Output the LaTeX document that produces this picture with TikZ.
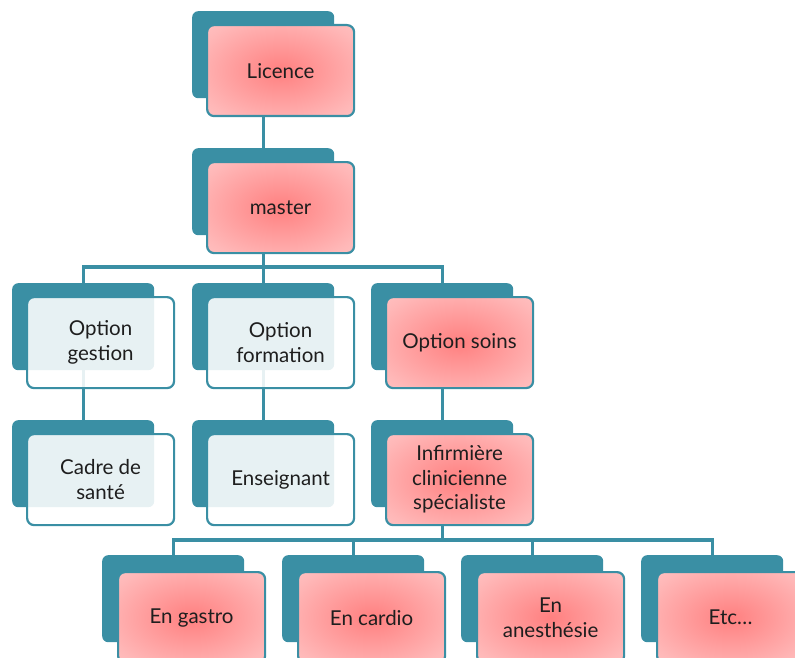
\documentclass[tikz,border=0pt]{standalone}
\usepackage{fontspec}
\setmainfont{Lato}
\pgfdeclarelayer{bg}
\pgfsetlayers{bg,main}
\definecolor{teal1}{RGB}{58,143,164}
\definecolor{txt}{RGB}{30,30,30}
\pgfdeclareradialshading{pinkrad}{\pgfpoint{0bp}{0bp}}{%
  rgb(0bp)=(1,0.50,0.50); rgb(8bp)=(1,0.56,0.56); rgb(30bp)=(1,0.72,0.72); rgb(50bp)=(1,0.83,0.83); rgb(75bp)=(1,0.88,0.88)}
\tikzset{
  backbox/.style={draw=none, fill=teal1, rounded corners=6pt, minimum width=142pt, minimum height=87pt, inner sep=0pt, anchor=north west},
  frontbase/.style={draw=teal1, line width=2.2pt, rounded corners=7pt, minimum width=147pt, minimum height=91pt, anchor=north west, align=center, text=txt, font=\fontsize{20.5}{24.5}\selectfont, inner sep=2pt},
  pinkbox/.style={frontbase, shading=pinkrad},
  bluebox/.style={frontbase, fill=white, fill opacity=0.88, text opacity=1},
  conn/.style={draw=teal1, line width=3.2pt}
}
\begin{document}
\begin{tikzpicture}[x=1pt, y=-1pt]
\useasboundingbox (0,0) rectangle (795,658);
\begin{scope}
\clip (0,0) rectangle (795,658);
% row 1
\node[backbox] (lB) at (192,11) {};
\node[pinkbox] (l) at (206,24) {Licence};
% row 2
\node[backbox] (mB) at (192,148) {};
\node[pinkbox] (m) at (206,161) {master};
% row 3
\node[backbox] (gB) at (12,283) {};
\node[bluebox] (g) at (26,296) {Option\\gestion};
\node[backbox] (fB) at (192,283) {};
\node[bluebox] (f) at (206,296) {Option\\formation};
\node[backbox] (sB) at (371,283) {};
\node[pinkbox] (s) at (385,296) {Option soins};
% row 4
\node[backbox] (cB) at (12,420) {};
\node[bluebox] (c) at (26,433) {Cadre de\\santé};
\node[backbox] (eB) at (192,420) {};
\node[bluebox] (e) at (206,433) {Enseignant};
\node[backbox] (iB) at (371,420) {};
\node[pinkbox] (i) at (385,433) {Infirmière\\clinicienne\\spécialiste};
% row 5
\node[backbox] (gaB) at (102,555) {};
\node[pinkbox] (ga) at (117,571) {En gastro};
\node[backbox] (caB) at (282,555) {};
\node[pinkbox] (ca) at (297,571) {En cardio};
\node[backbox] (anB) at (461,555) {};
\node[pinkbox] (an) at (476,571) {En\\anesthésie};
\node[backbox] (etB) at (641,555) {};
\node[pinkbox] (et) at (656,571) {Etc\dots};
% connectors
\begin{pgfonlayer}{bg}
\draw[conn] (lB.center) -- (mB.center);
\coordinate (j1) at (mB.center |- 0,267);
\draw[conn] (mB.center) -- (j1) -| (gB.center);
\draw[conn] (j1) -| (sB.center);
\draw[conn] (j1) -- (fB.center);
\draw[conn] (gB.center) -- (cB.center);
\draw[conn] (fB.center) -- (eB.center);
\draw[conn] (sB.center) -- (iB.center);
\coordinate (j2) at (iB.center |- 0,540);
\draw[conn] (iB.center) -- (j2);
\draw[conn] (j2) -| (gaB.center);
\draw[conn] (j2) -| (caB.center);
\draw[conn] (j2) -| (anB.center);
\draw[conn] (j2) -| (etB.center);
\end{pgfonlayer}
\end{scope}
\end{tikzpicture}
\end{document}
